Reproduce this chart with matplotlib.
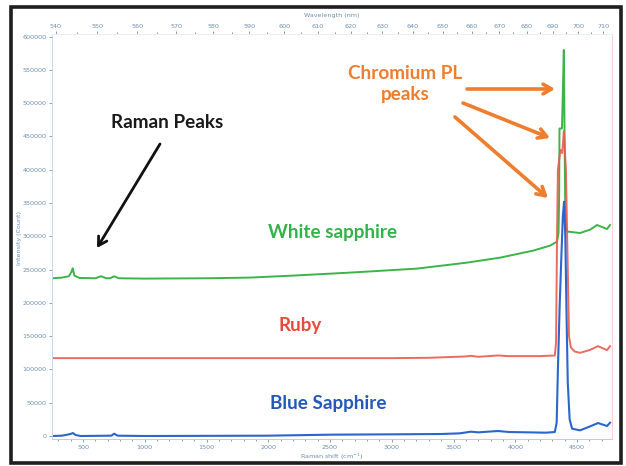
import matplotlib
matplotlib.use("Agg")
import matplotlib.pyplot as plt
from matplotlib.patches import Rectangle, FancyArrowPatch
from matplotlib.ticker import MultipleLocator, FixedLocator
import numpy as np

# ---------------- data ----------------
green_x = [250, 330, 385, 405, 417, 430, 470, 600, 645, 690, 720, 752, 790, 1000,
           1500, 1852, 2200, 2662, 3204, 3609, 3877, 4144, 4281, 4338, 4350, 4355,
           4358, 4378, 4388, 4393, 4400, 4405, 4412, 4425, 4443, 4524, 4605, 4662,
           4702, 4743, 4767]
green_y = [237000, 238000, 240000, 246000, 252000, 241000, 237500, 237000, 240000,
           237000, 237000, 240000, 237000, 236500, 237000, 238000, 241000, 245500,
           251500, 260500, 268000, 278500, 286000, 292000, 305000, 360000, 462000,
           462000, 540000, 580000, 430000, 330000, 312000, 307000, 306800, 305000,
           310000, 317000, 314000, 311000, 317000]

red_x = [250, 1000, 2000, 3000, 3300, 3600, 3640, 3700, 3860, 3950, 4200, 4320,
         4330, 4338, 4345, 4365, 4380, 4393, 4410, 4425, 4435, 4450, 4480, 4524,
         4600, 4670, 4743, 4767]
red_y = [117000, 117000, 117000, 117000, 117500, 119500, 120500, 119000, 121000,
         120000, 120000, 121000, 140000, 300000, 400000, 430000, 425000, 458000,
         400000, 250000, 150000, 133000, 127000, 125000, 129000, 135000, 129000,
         135000]

blue_x = [250, 330, 400, 417, 440, 480, 730, 752, 780, 1000, 2000, 2500, 3000,
          3400, 3550, 3640, 3700, 3860, 3950, 4250, 4320, 4335, 4345, 4360, 4375,
          4385, 4395, 4405, 4415, 4425, 4440, 4460, 4524, 4600, 4670, 4743, 4767]
blue_y = [0, 500, 3000, 4500, 1500, 0, 500, 3500, 500, 0, 500, 2000, 2500, 3000,
          4000, 6500, 5500, 7500, 6000, 5000, 6000, 20000, 100000, 200000, 280000,
          330000, 352000, 300000, 180000, 80000, 25000, 11000, 8500, 14000, 19500,
          15000, 20000]

x_major = [500, 1000, 1500, 2000, 2500, 3000, 3500, 4000, 4500]
y_major = [0, 50000, 100000, 150000, 200000, 250000, 300000, 350000, 400000,
           450000, 500000, 550000, 600000]
wl_major = list(range(540, 711, 10))
wl_minor = list(range(545, 711, 10))
laser_nm = 532.0

# ---------------- figure ----------------
W, H = 626, 466
fig = plt.figure(figsize=(W / 100, H / 100), dpi=100)
fig.patch.set_facecolor("white")


def fx(px):
    return px / W


def fy(py):
    return 1 - py / H


ax = fig.add_axes([fx(52), fy(439), fx(612) - fx(52), fy(34) - fy(439)])

c_green = "#3cb44a"
c_red = "#ec5a4c"
c_blue = "#2a66cc"

ax.plot(green_x, green_y, color=c_green, lw=1.4)
ax.plot(red_x, red_y, color=c_red, lw=1.4, alpha=0.9)
ax.plot(blue_x, blue_y, color=c_blue, lw=1.5)

ax.set_xlim(249, 4783)
ax.set_ylim(-4500, 604000)

tick_col = "#6f8fae"
ax.xaxis.set_major_locator(FixedLocator(x_major))
ax.xaxis.set_minor_locator(MultipleLocator(100))
ax.yaxis.set_major_locator(FixedLocator(y_major))
ax.tick_params(axis="both", which="major", labelsize=4.6, colors=tick_col,
               length=2.5, width=0.6, pad=1.5)
ax.tick_params(axis="x", which="minor", length=1.2, width=0.6, colors=tick_col)
ax.set_xticklabels([str(v) for v in x_major])
ax.set_yticklabels([str(v) for v in y_major])

ax.spines["left"].set_color("#c9d9ea")
ax.spines["bottom"].set_color("#f2b8c0")
ax.spines["right"].set_color("#f4d0d4")
ax.spines["top"].set_color("#eeeeee")
for s in ax.spines.values():
    s.set_linewidth(0.7)


def s2w(s):
    s = np.asarray(s, dtype=float)
    return 1e7 / (1e7 / laser_nm - s)


def w2s(w):
    w = np.asarray(w, dtype=float)
    return 1e7 / laser_nm - 1e7 / w


top = ax.secondary_xaxis("top", functions=(s2w, w2s))
top.xaxis.set_major_locator(FixedLocator(wl_major))
top.xaxis.set_minor_locator(FixedLocator(wl_minor))
top.set_xticklabels([str(v) for v in wl_major])
top.tick_params(axis="x", which="major", labelsize=4.6, colors=tick_col,
                length=2.5, width=0.6, pad=1.2)
top.tick_params(axis="x", which="minor", length=1.2, width=0.6, colors=tick_col)
top.spines["top"].set_visible(False)

fig.text(fx(332), fy(15), "Wavelength (nm)", ha="center", va="center",
         fontsize=4.6, color=tick_col)
fig.text(fx(332), fy(457), "Raman shift (cm$^{-1}$)", ha="center", va="center",
         fontsize=4.6, color=tick_col)
fig.text(fx(20), fy(238), "Intensity (Count)", ha="center", va="center",
         fontsize=4.6, color=tick_col, rotation=90)

# ---------------- annotations ----------------
fam = ["Lato", "DejaVu Sans"]
fs = 13.6
fig.text(fx(167), fy(122), "Raman Peaks", ha="center", va="center",
         fontsize=fs, fontweight="bold", color="#1a1a1a", family=fam)
c_or = "#ee7d2e"
fig.text(fx(405), fy(84), "Chromium PL\npeaks", ha="center", va="center",
         fontsize=fs, fontweight="bold", color=c_or, family=fam,
         linespacing=1.3)
fig.text(fx(333), fy(232), "White sapphire", ha="center", va="center",
         fontsize=fs, fontweight="bold", color="#33b24a", family=fam)
fig.text(fx(300), fy(326), "Ruby", ha="center", va="center",
         fontsize=fs, fontweight="bold", color="#ea4a3c", family=fam)
fig.text(fx(328), fy(404), "Blue Sapphire", ha="center", va="center",
         fontsize=fs, fontweight="bold", color="#2458bb", family=fam)


def arrow(p0, p1, color, lw):
    a = FancyArrowPatch((fx(p0[0]), fy(p0[1])), (fx(p1[0]), fy(p1[1])),
                        transform=fig.transFigure, arrowstyle="->,head_length=6,head_width=3.5",
                        color=color, lw=lw, shrinkA=0, shrinkB=0,
                        mutation_scale=1)
    fig.patches.append(a)


arrow((160, 144), (97, 248), "#111111", 2.0)
arrow((467, 89), (555, 89), c_or, 2.6)
arrow((463, 103), (550, 138), c_or, 2.6)
arrow((455, 117), (548, 198), c_or, 2.6)

# outer frame
fig.patches.append(Rectangle((fx(11), fy(463)), fx(621) - fx(11), fy(7) - fy(463),
                             transform=fig.transFigure, fill=False,
                             edgecolor="#1e1e1e", lw=2.6))

fig.savefig("out.png", dpi=100, facecolor="white")
